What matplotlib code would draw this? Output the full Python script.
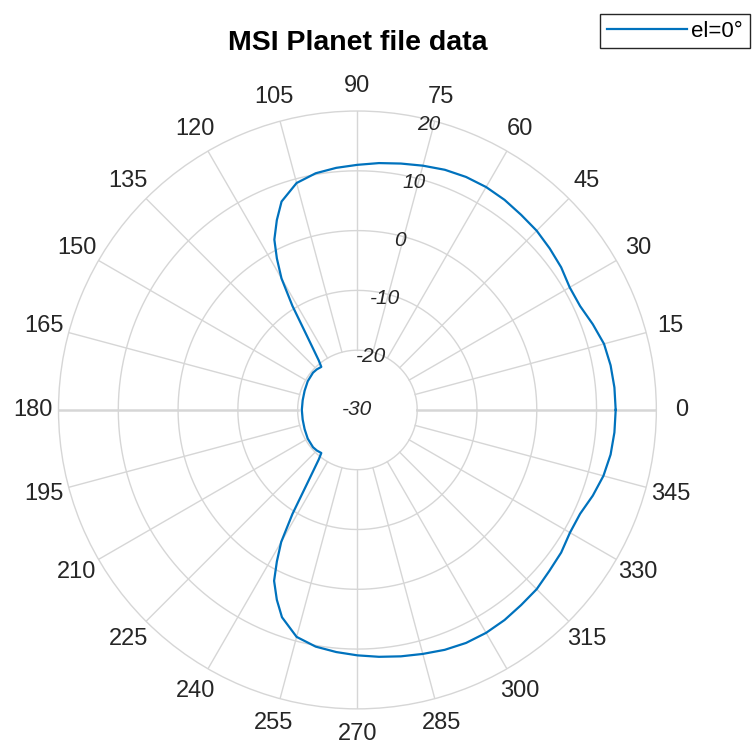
import numpy as np
import matplotlib.pyplot as plt

plt.rcParams['font.family'] = ['Liberation Sans', 'DejaVu Sans']

azimuth = [0, 5, 10, 15, 20, 25, 30, 35, 40, 45, 50, 55, 60, 65, 70, 75, 80, 85,
           90, 95, 100, 105, 110, 113, 116, 118, 120, 122, 124, 126, 128, 130,
           135, 140, 150, 160, 170, 180, 190, 200, 210, 220, 225, 230, 232, 234,
           236, 238, 240, 242, 244, 247, 250, 255, 260, 265, 270, 275, 280, 285,
           290, 295, 300, 305, 310, 315, 320, 325, 330, 335, 340, 345, 350, 355, 360]
gain = [13.2, 13.15, 13.0, 12.7, 11.9, 11.1, 11.0, 11.6, 12.0, 12.4, 12.6, 12.9,
        13.05, 13.0, 12.75, 12.3, 11.85, 11.45, 11.0, 10.65, 10.2, 9.3, 7.1, 4.5,
        1.7, -1.3, -4.6, -9.5, -14.5, -17.5, -19.5, -20.6, -20.4, -20.3, -20.4,
        -20.6, -20.7, -20.7, -20.7, -20.6, -20.4, -20.3, -20.4, -20.6, -19.5,
        -17.5, -14.5, -9.5, -4.5, -1.3, 1.8, 4.5, 6.9, 9.3, 10.2, 10.65, 11.05,
        11.45, 11.85, 12.25, 12.7, 13.0, 13.05, 12.9, 12.6, 12.4, 11.9, 11.6,
        11.05, 11.1, 11.9, 12.6, 13.0, 13.15, 13.2]

theta_ticks = list(range(0, 360, 15))
r_ticks = [-30, -20, -10, 0, 10, 20]

grid_col = '#d6d6d6'
line_col = '#0072BD'

fig = plt.figure(figsize=(7.52, 7.44), dpi=100)
ax = fig.add_axes([0.0778, 0.047, 0.795, 0.804], projection='polar')
ax.set_ylim(-30, 20)
ax.set_xticks([])
ax.set_yticks([])
ax.grid(False)
ax.spines['polar'].set_color(grid_col)
ax.spines['polar'].set_linewidth(1.0)

# grid circles
tt = np.linspace(0, 2 * np.pi, 361)
for r in r_ticks[1:-1]:
    ax.plot(tt, np.full_like(tt, r), color=grid_col, lw=1.0, zorder=1)

# spokes from the inner circle outwards
for a in theta_ticks:
    lw = 1.8 if a in (0, 180) else 1.0
    ax.plot([np.deg2rad(a)] * 2, [-20, 20], color=grid_col, lw=lw, zorder=1)
    ax.text(np.deg2rad(a), 24.2, str(a), ha='center', va='center',
            fontsize=17, color='#262626')

# radial labels
for v in r_ticks:
    if v == -30:
        ax.text(0, -30, '-30', ha='center', va='center', fontsize=15,
                style='italic', color='#262626')
    else:
        ax.text(np.deg2rad(76), v - 0.8, str(v), ha='center', va='center',
                fontsize=15, style='italic', color='#262626')

ax.plot(np.deg2rad(azimuth), gain, color=line_col, lw=1.6, label='el=0°', zorder=3)

fig.text(0.476, 1 - 43 / 744, 'MSI Planet file data', ha='center', va='center',
         fontsize=20.5, fontweight='bold')

leg = fig.legend(loc='upper left', bbox_to_anchor=(600 / 752, 1 - 14 / 744),
                 fontsize=16, fancybox=False, edgecolor='#262626', framealpha=1,
                 handlelength=3.6, borderaxespad=0, borderpad=0.3, handletextpad=0.2)
leg.get_frame().set_linewidth(1.0)

fig.savefig('out.png', dpi=100)
